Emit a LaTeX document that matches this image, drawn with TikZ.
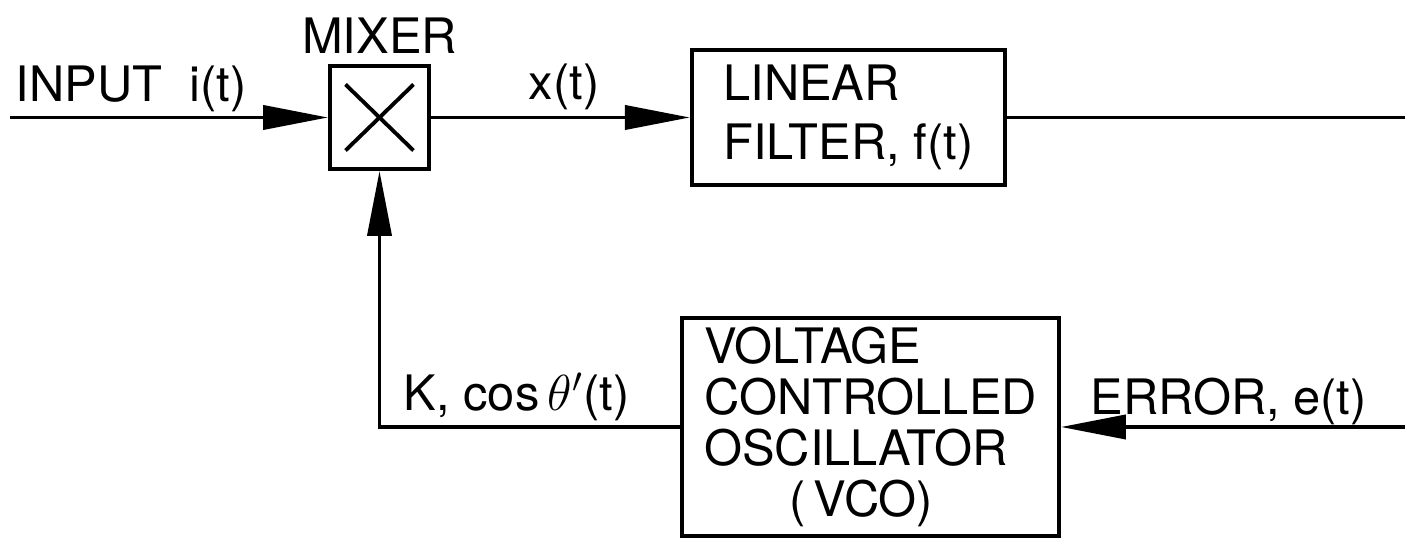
\documentclass[tikz,border=0pt]{standalone}
\usepackage{fontspec}
\setmainfont{TeX Gyre Heros}
\usetikzlibrary{arrows.meta, positioning, calc}
\tikzset{
  blk/.style={draw, line width=1.1pt, align=left, inner sep=0pt,
              font=\fontsize{13.9}{17}\selectfont},
  lbl/.style={inner sep=0pt, font=\fontsize{13.9}{17}\selectfont},
  sig/.style={-{Triangle[length=6.5mm,width=2.4mm]}, line width=1.1pt},
  wire/.style={line width=1.1pt},
}

\begin{document}
\begin{tikzpicture}
  \useasboundingbox (0,0) rectangle (14.05,-5.38);
  \node[blk, minimum width=0.99cm, minimum height=1.03cm] (mix) at (3.795,-1.175) {};
  \node[blk, right=2.59cm of mix, minimum width=3.13cm, minimum height=1.35cm] (fil)
    {LINEAR\\FILTER, f(t)};
  \node[blk, minimum width=3.77cm, minimum height=2.18cm,
        font=\fontsize{13.9}{14.5}\selectfont] (vco) at (8.705,-4.27)
    {VOLTAGE\\CONTROLLED\\OSCILLATOR\\\hspace*{0.85cm}(\,VCO)};
  % cross inside the mixer
  \draw[wire] ($(mix.center)+(-0.34,0.33)$) -- ($(mix.center)+(0.34,-0.33)$);
  \draw[wire] ($(mix.center)+(0.34,0.33)$) -- ($(mix.center)+(-0.34,-0.33)$);
  \coordinate (in)  at (0.10,-1.175);
  \coordinate (out) at (14.05,-1.175);
  \coordinate (err) at (14.05,-4.27);
  \draw[sig] (in) -- (mix);
  \draw[sig] (mix) -- (fil);
  \draw[wire] (fil) -- (out);
  \draw[sig] (err) -- (vco);
  \draw[sig] (vco.west) -| (mix.south);
  % labels
  \node[lbl, above=0.1cm of mix] (mixlbl) {MIXER};
  \node[lbl, anchor=base west] (inlbl) at (0.15,-1.02) {INPUT\ \ i(t)};
  \node[lbl, anchor=base] (xlbl) at (5.64,-1.0) {x(t)};
  \node[lbl, anchor=base west] (klbl) at (4.03,-4.11) {K, cos\,$\theta'$(t)};
  \node[lbl, anchor=base west] (errlbl) at (10.90,-4.15) {ERROR, e(t)};
\end{tikzpicture}
\end{document}
